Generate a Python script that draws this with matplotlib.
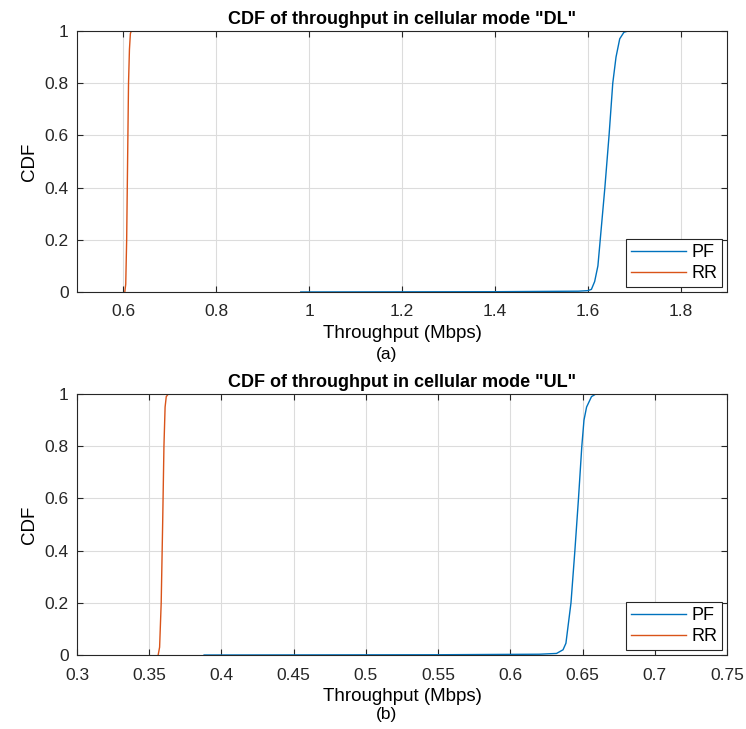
import matplotlib.pyplot as plt
from matplotlib.ticker import FuncFormatter

plt.rcParams['font.family'] = ['Liberation Sans', 'DejaVu Sans']

# CDF curves (throughput in Mbps, cumulative probability)
dl_pf_x = [0.982, 1.40, 1.58, 1.600, 1.608, 1.615, 1.622, 1.627, 1.637, 1.646,
           1.654, 1.661, 1.669, 1.678, 1.687, 1.695]
dl_pf_y = [0, 0.001, 0.003, 0.005, 0.01, 0.04, 0.1, 0.2, 0.4, 0.6,
           0.8, 0.9, 0.97, 0.995, 1.0, 1.0]
dl_rr_x = [0.603, 0.605, 0.607, 0.609, 0.611, 0.613, 0.615, 0.617]
dl_rr_y = [0, 0.03, 0.2, 0.5, 0.8, 0.93, 0.99, 1.0]

ul_pf_x = [0.388, 0.55, 0.62, 0.632, 0.6365, 0.6385, 0.642, 0.6447, 0.6472,
           0.6495, 0.651, 0.6528, 0.6562, 0.6592, 0.6605]
ul_pf_y = [0, 0.001, 0.003, 0.006, 0.02, 0.045, 0.2, 0.4, 0.6,
           0.8, 0.9, 0.95, 0.99, 1.0, 1.0]
ul_rr_x = [0.3562, 0.3572, 0.3583, 0.3593, 0.3602, 0.361, 0.3618, 0.3632]
ul_rr_y = [0, 0.03, 0.2, 0.5, 0.8, 0.95, 0.99, 1.0]

dl_xticks = [0.6, 0.8, 1.0, 1.2, 1.4, 1.6, 1.8]
ul_xticks = [0.3, 0.35, 0.4, 0.45, 0.5, 0.55, 0.6, 0.65, 0.7, 0.75]
yticks = [0, 0.2, 0.4, 0.6, 0.8, 1]

BLUE = '#0072BD'
ORANGE = '#D95319'
AXC = '#262626'

fig = plt.figure(figsize=(7.46, 7.29), dpi=100)
ax1 = fig.add_axes([0.1032, 0.5995, 0.8713, 0.358])
ax2 = fig.add_axes([0.1032, 0.1015, 0.8713, 0.358])


def g(v, pos):
    return '%g' % round(v, 4)


def style(ax, xlim, xticks, title, sub, ysub):
    ax.set_xlim(*xlim)
    ax.set_ylim(0, 1)
    ax.set_xticks(xticks)
    ax.set_yticks(yticks)
    ax.xaxis.set_major_formatter(FuncFormatter(g))
    ax.yaxis.set_major_formatter(FuncFormatter(g))
    ax.grid(True, color='#dcdcdc', linewidth=0.8)
    ax.set_axisbelow(True)
    ax.tick_params(direction='in', top=True, right=True, length=4,
                   color=AXC, labelsize=12.5, labelcolor='#262626')
    ax.tick_params(axis='x', pad=9)
    ax.tick_params(axis='y', pad=6)
    for s in ax.spines.values():
        s.set_color(AXC)
        s.set_linewidth(0.8)
    ax.set_title(title, fontsize=13, fontweight='bold', pad=5)
    ax.set_ylabel('CDF', fontsize=13.5, labelpad=5)
    ax.set_xlabel('Throughput (Mbps)', fontsize=13.5, labelpad=4)
    fig.text(0.5185, ysub, sub, ha='center', va='center', fontsize=12.5)
    leg = ax.legend(loc='lower right', fontsize=13, fancybox=False,
                    edgecolor='#262626', framealpha=1, borderaxespad=0.25,
                    handlelength=3.0, handletextpad=0.3, borderpad=0.3,
                    labelspacing=0.2)
    leg.get_frame().set_linewidth(0.8)


ax1.plot(dl_pf_x, dl_pf_y, color=BLUE, lw=1, label='PF')
ax1.plot(dl_rr_x, dl_rr_y, color=ORANGE, lw=1, label='RR')
style(ax1, (0.5, 1.9), dl_xticks, 'CDF of throughput in cellular mode "DL"',
      '(a)', 1 - 354 / 729)

ax2.plot(ul_pf_x, ul_pf_y, color=BLUE, lw=1, label='PF')
ax2.plot(ul_rr_x, ul_rr_y, color=ORANGE, lw=1, label='RR')
style(ax2, (0.3, 0.75), ul_xticks, 'CDF of throughput in cellular mode "UL"',
      '(b)', 1 - 715 / 729)

fig.savefig('out.png', dpi=100, facecolor='white')
